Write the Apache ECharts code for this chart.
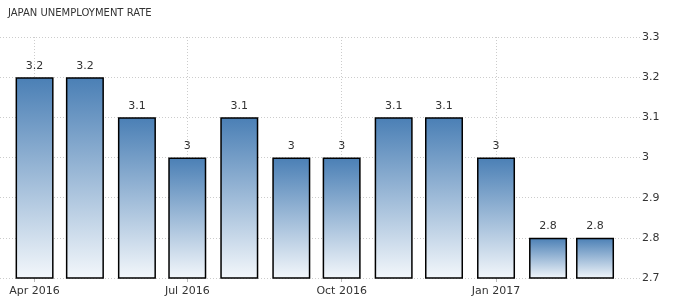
<!DOCTYPE html>
<html><head><meta charset="utf-8">
<script src="https://cdn.jsdelivr.net/npm/echarts@6/dist/echarts.min.js"></script>
<style>html,body{margin:0;padding:0;background:#fff}#c{width:679px;height:305px}</style>
</head><body><div id="c"></div>
<script>
const title = 'JAPAN UNEMPLOYMENT RATE';
const months = ['2016-04','2016-05','2016-06','2016-07','2016-08','2016-09','2016-10','2016-11','2016-12','2017-01','2017-02','2017-03'];
const values = [3.2,3.2,3.1,3,3.1,3,3,3.1,3.1,3,2.8,2.8];
const tickDates = ['2016-04','2016-07','2016-10','2017-01'];
const tickLabels = ['Apr 2016','Jul 2016','Oct 2016','Jan 2017'];

// days since 2016-04-01
function dayNum(m){const [y,mo]=m.split('-').map(Number);return Math.round((Date.UTC(y,mo-1,1)-Date.UTC(2016,3,1))/86400000);}
const xMin = -20.6;
const xMax = 360.8;
const tickPos = tickDates.map(dayNum);
const labelMap = {}; tickPos.forEach((t,i)=>labelMap[t]=tickLabels[i]);

const chart = echarts.init(document.getElementById('c'));
chart.setOption({
  animation:false,
  title:{text:title,left:3,top:3,textStyle:{fontFamily:'DejaVu Sans',fontSize:10,fontWeight:'normal',color:'#333'}},
  grid:{left:0,right:39,top:37,bottom:27},
  xAxis:{type:'value',min:xMin,max:xMax,
    axisLine:{show:false},
    axisTick:{show:true,customValues:tickPos,length:4,lineStyle:{color:'#bbb'}},
    axisLabel:{customValues:tickPos,formatter:v=>labelMap[Math.round(v)]||'',fontFamily:'DejaVu Sans',fontSize:11,color:'#333',margin:8,hideOverlap:false},
    splitLine:{show:true,lineStyle:{color:'#ccc',type:[1,2],width:1}}
  },
  yAxis:{type:'value',position:'right',min:2.7,max:3.3,interval:0.1,
    axisLine:{show:false},axisTick:{show:false},
    axisLabel:{fontFamily:'DejaVu Sans',fontSize:11,color:'#333',margin:2,formatter:v=>String(+v.toFixed(1))},
    splitLine:{show:true,lineStyle:{color:'#ccc',type:[1,2],width:1}}
  },
  series:[{type:'bar',barWidth:38,
    data:months.map((m,i)=>[dayNum(m),values[i]]),
    itemStyle:{borderColor:'#000',borderWidth:1.5,borderJoin:'miter',borderRadius:0,
      color:new echarts.graphic.LinearGradient(0,0,0,1,[{offset:0,color:'#4a7fb5'},{offset:1,color:'#f3f7fb'}])},
    label:{show:true,position:'top',distance:6,fontFamily:'DejaVu Sans',fontSize:11,color:'#333',formatter:p=>String(p.value[1])}
  }]
});
</script></body></html>
